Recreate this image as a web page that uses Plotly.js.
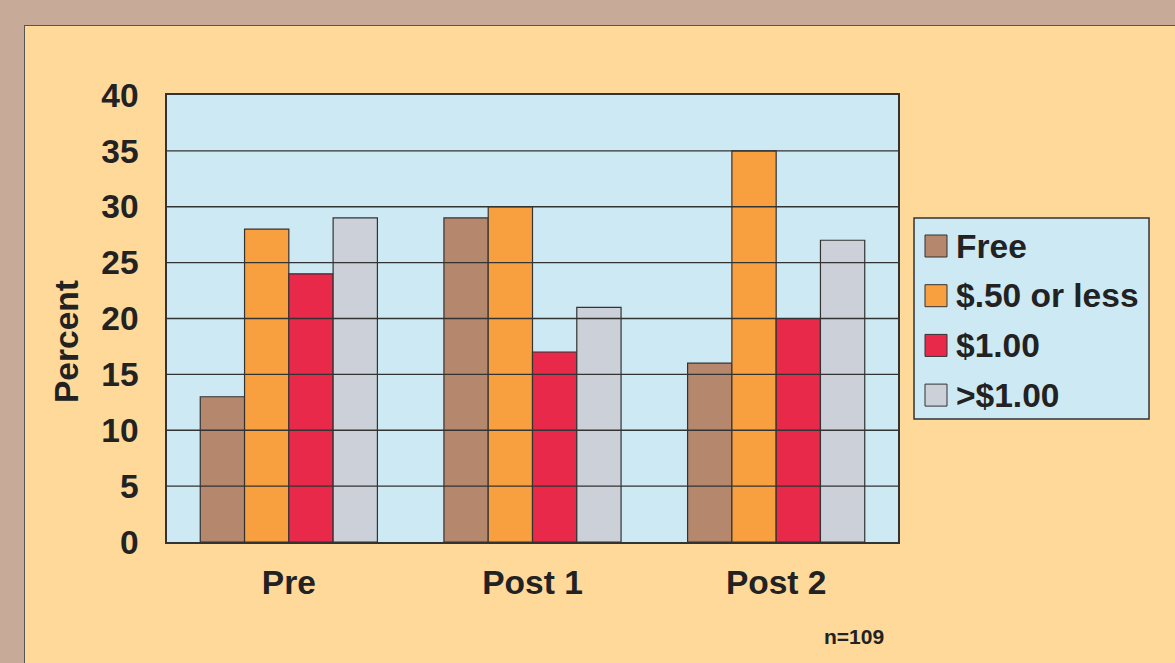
<!DOCTYPE html>
<html><head><meta charset="utf-8">
<script src="https://cdn.plot.ly/plotly-3.0.1.min.js"></script>
<style>
html,body{margin:0;padding:0;background:#c8aa98;width:1175px;height:663px;overflow:hidden;}
#frame{position:absolute;left:24px;top:25px;width:1151px;height:638px;border-left:1.5px solid #555;border-top:1.5px solid #555;box-sizing:border-box;background:#fed99a;}
#chart{width:1150px;height:637px;}
</style></head>
<body><div id="frame"><div id="chart"></div></div>
<script>
const categories = ["Pre", "Post 1", "Post 2"];
const seriesNames = ["Free", "$.50 or less", "$1.00", ">$1.00"];
const free = [13, 29, 16];
const fiftyOrLess = [28, 30, 35];
const oneDollar = [24, 17, 20];
const overDollar = [29, 21, 27];
const yTicks = [0, 5, 10, 15, 20, 25, 30, 35, 40];
const colors = ["#b5876c", "#f8a040", "#e8294a", "#cbd0d9"];
const seriesValues = [free, fiftyOrLess, oneDollar, overDollar];

const FONT = "Liberation Sans, Arial, sans-serif";
const FS = 33.5;
const traces = seriesValues.map((vals, i) => ({
  type: "bar", x: categories, y: vals, name: seriesNames[i],
  marker: {color: colors[i], line: {color: "#333", width: 1.2}},
  hoverinfo: "x+y+name"
}));

const shapes = [];
yTicks.filter(t => t > 0 && t < 40).forEach(t => shapes.push({
  type: "line", xref: "paper", yref: "y", x0: 0, x1: 1, y0: t, y1: t,
  line: {color: "#333", width: 1.3}, layer: "above"
}));
// custom legend
const lgX0 = 1.0219, lgX1 = 1.3434, lgTop = 0.7248, lgBot = 0.2752;
shapes.push({type: "rect", xref: "paper", yref: "paper", x0: lgX0, x1: lgX1, y0: lgBot, y1: lgTop,
  fillcolor: "#cde9f3", line: {color: "#333", width: 1.5}, layer: "below"});
const annotations = [];
const plotH = 447, plotW = 731;
seriesNames.forEach((n, i) => {
  const cy = (516 - (220 + i * 49.7)) / plotH;
  const half = 11 / plotH;
  const sx0 = (900 - 142) / plotW, sx1 = (922 - 142) / plotW;
  shapes.push({type: "rect", xref: "paper", yref: "paper", x0: sx0, x1: sx1, y0: cy - half, y1: cy + half,
    fillcolor: colors[i], line: {color: "#333", width: 1}});
  annotations.push({xref: "paper", yref: "paper", x: (929 - 142) / plotW, y: cy, xanchor: "left", yanchor: "middle",
    text: "<b>" + n.replace(/>/g, "&gt;") + "</b>", showarrow: false, font: {family: FONT, size: FS, color: "#222"}});
});
annotations.push({xref: "paper", yref: "paper", x: (41 - 142) / plotW, y: (516 - 315) / plotH, textangle: -90,
  text: "<b>Percent</b>", showarrow: false, font: {family: FONT, size: FS, color: "#222"}, xanchor: "center", yanchor: "middle"});
annotations.push({xref: "paper", yref: "paper", x: (829 - 142) / plotW, y: (516 - 610) / plotH,
  text: "<b>n=109</b>", showarrow: false, font: {family: FONT, size: 21, color: "#222"}, xanchor: "center", yanchor: "middle"});

const layout = {
  width: 1150, height: 637,
  margin: {l: 142, r: 277, t: 69, b: 121, pad: 0},
  paper_bgcolor: "#fed99a", plot_bgcolor: "#cde9f3",
  barmode: "group", bargap: 0.273, bargroupgap: 0,
  showlegend: false,
  xaxis: {type: "category", range: [-0.5, 2.5], showgrid: false, ticks: "", ticklabelstandoff: 10,
    tickfont: {family: FONT, size: FS, color: "#222"}, showline: true, mirror: true, linecolor: "#333", linewidth: 1.5,
    tickprefix: "<b>", ticksuffix: "</b>", fixedrange: true},
  yaxis: {range: [0, 40], tickvals: yTicks, ticktext: yTicks.map(t => "<b>" + t + "</b>"), showgrid: false, zeroline: false,
    ticks: "", ticklabelstandoff: 20, tickfont: {family: FONT, size: FS, color: "#222"},
    showline: true, mirror: true, linecolor: "#333", linewidth: 1.5, fixedrange: true},
  shapes: shapes, annotations: annotations
};
Plotly.newPlot("chart", traces, layout, {displayModeBar: false});
</script></body></html>
